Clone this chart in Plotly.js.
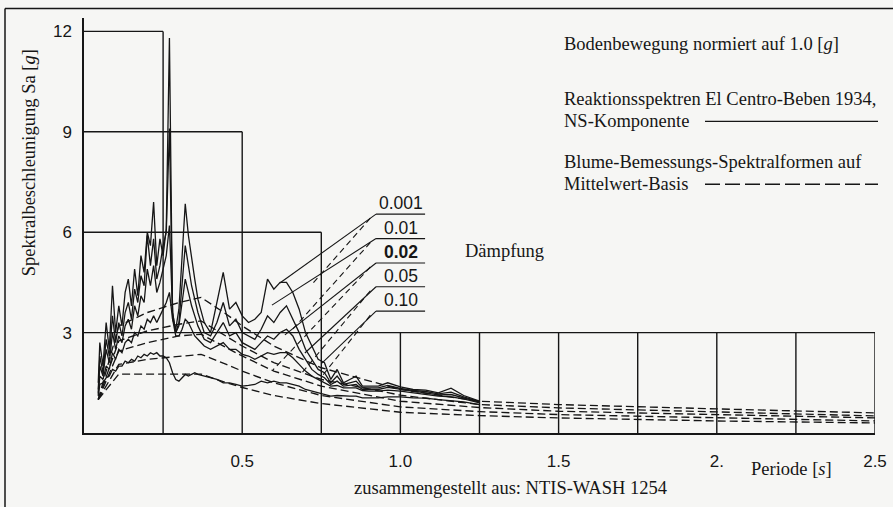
<!DOCTYPE html>
<html>
<head>
<meta charset="utf-8">
<script src="https://cdn.plot.ly/plotly-3.0.1.min.js"></script>
<style>
  html, body { margin: 0; padding: 0; background: #f6f6f4; }
  #chart { width: 893px; height: 507px; }
</style>
</head>
<body>
<div id="chart"></div>
<script>
// ---------- DATA ----------
const dampings = ['0.001', '0.01', '0.02', '0.05', '0.10'];

// Response spectra El Centro, NS component (solid)
const solidT = [0.045,0.05,0.06,0.07,0.08,0.09,0.10,0.11,0.12,0.13,0.14,0.15,0.16,0.17,0.18,0.19,0.20,0.21,0.22,0.23,0.24,0.25,0.26,0.27,0.28,0.29,0.30,0.31,0.32,0.33,0.34,0.35,0.36,0.38,0.40,0.42,0.44,0.46,0.48,0.50,0.52,0.54,0.56,0.58,0.60,0.62,0.64,0.66,0.68,0.70,0.72,0.74,0.76,0.78,0.80,0.82,0.84,0.86,0.88,0.90,0.93,0.96,1.00,1.04,1.08,1.12,1.16,1.20,1.25];
const solid001 = [1.5,2.7,2.0,3.3,2.5,4.4,3.0,3.8,3.2,4.2,4.6,3.8,4.9,4.1,5.3,4.8,6.0,5.6,6.9,5.0,5.8,5.3,6.1,11.8,3.4,3.1,3.7,5.4,6.85,5.9,5.2,4.6,4.0,3.3,3.0,3.9,4.8,3.7,3.9,3.5,3.3,3.4,3.6,4.6,4.3,4.5,4.5,4.2,3.7,3.0,2.6,2.2,2.1,1.6,1.9,1.5,1.6,1.7,1.4,1.4,1.4,1.5,1.38,1.3,1.28,1.2,1.34,1.12,0.95];
const solid01 = [1.3,2.3,1.8,2.8,2.3,3.5,2.7,3.3,2.9,3.6,3.9,3.4,4.3,3.9,4.7,4.4,5.9,5.0,5.8,4.6,5.0,5.6,6.0,9.1,3.6,3.0,3.3,4.6,5.6,5.0,4.4,4.0,3.6,3.0,2.9,3.3,3.9,3.2,3.4,3.0,2.9,2.8,3.1,3.5,3.3,3.6,3.8,3.4,3.0,2.5,2.2,1.9,1.8,1.5,1.7,1.45,1.5,1.55,1.35,1.35,1.35,1.42,1.33,1.27,1.24,1.17,1.22,1.08,0.94];
const solid02 = [1.2,2.0,1.7,2.5,2.1,3.0,2.5,2.9,2.7,3.2,3.4,3.1,3.8,3.5,4.1,3.9,4.9,4.4,5.0,4.2,4.5,4.9,5.3,6.2,3.6,3.0,3.2,3.9,4.6,4.2,3.8,3.5,3.2,2.8,2.7,3.0,3.3,2.9,3.0,2.7,2.6,2.5,2.7,2.9,2.8,3.0,3.1,2.9,2.5,2.2,1.9,1.75,1.65,1.45,1.55,1.4,1.42,1.45,1.3,1.3,1.3,1.36,1.3,1.24,1.2,1.14,1.15,1.05,0.92];
const solid05 = [1.15,1.7,1.6,2.0,1.9,2.4,2.2,2.5,2.4,2.7,2.8,2.7,3.0,2.9,3.2,3.1,3.4,3.3,3.5,3.3,3.5,3.7,3.9,4.2,3.4,2.9,2.9,3.1,3.4,3.3,3.1,2.9,2.8,2.6,2.5,2.6,2.7,2.5,2.5,2.35,2.3,2.2,2.3,2.4,2.35,2.4,2.4,2.25,2.05,1.85,1.7,1.6,1.5,1.4,1.42,1.35,1.35,1.35,1.27,1.25,1.25,1.28,1.25,1.2,1.17,1.1,1.08,1.02,0.9];
const solid10 = [1.1,1.45,1.5,1.65,1.7,1.9,1.85,2.0,2.0,2.15,2.1,2.2,2.15,2.3,2.25,2.35,2.3,2.4,2.35,2.4,2.3,2.3,2.25,2.1,1.8,1.6,1.55,1.65,1.75,1.7,1.75,1.8,1.75,1.7,1.65,1.6,1.5,1.5,1.45,1.4,1.42,1.45,1.55,1.5,1.55,1.5,1.5,1.45,1.4,1.3,1.25,1.2,1.15,1.1,1.12,1.1,1.1,1.1,1.05,1.05,1.05,1.08,1.08,1.05,1.04,1.0,0.97,0.93,0.85];

// Blume design spectral shapes, mean basis (dashed)
const designT = [0.045,0.11,0.2,0.3,0.37,0.45,0.5,0.6,0.75,1.0,1.25,1.5,2.0,2.5];
const design001 = [1.0,3.2,3.6,3.9,4.05,3.55,3.2,2.6,1.95,1.3,0.95,0.85,0.72,0.60];
const design01  = [1.0,2.75,3.05,3.25,3.35,2.9,2.6,2.1,1.6,1.13,0.85,0.75,0.63,0.51];
const design02  = [1.0,2.45,2.7,2.9,2.95,2.55,2.3,1.85,1.4,0.95,0.76,0.65,0.54,0.45];
const design05  = [1.0,2.05,2.2,2.3,2.35,2.05,1.85,1.5,1.12,0.78,0.64,0.55,0.45,0.36];
const design10  = [1.0,1.76,1.76,1.76,1.76,1.5,1.36,1.12,0.88,0.62,0.52,0.45,0.36,0.30];

// Axis ticks
const xTickVals = [0.5, 1.0, 1.5, 2.0, 2.5];
const xTickText = ['0.5', '1.0', '1.5', '2.', '2.5'];
const yTickVals = [3, 6, 9, 12];
const yTickText = ['3', '6', '9', '12'];

// Staircase reference boxes: vertical line at period, from 0 up to top value
const boxT   = [0.25, 0.5, 0.75, 1.0, 1.25, 1.5, 1.75, 2.0, 2.25, 2.5];
const boxTop = [12, 9, 6, 3, 3, 3, 3, 3, 3, 3];

// Damping label leaders (data coords): label underline level, solid / dashed targets
const labelLevel  = [6.54, 5.81, 5.08, 4.37, 3.64];
const solidLeadT  = [0.619, 0.594, 0.635, 0.698, 0.752];
const solidLeadSa = [4.48, 3.82, 2.93, 2.39, 2.09];
const dashLeadT   = [0.724, 0.651, 0.597, 0.683, 0.755];
const dashLeadSa  = [4.48, 3.01, 1.88, 1.73, 1.73];

// ---------- LAYOUT CONSTANTS ----------
const W = 893, H = 507;
const M = { l: 84, r: 18, t: 17.6, b: 74 };
const PW = W - M.l - M.r, PH = H - M.t - M.b;
const px = v => (v - M.l) / PW;
const py = v => (H - M.b - v) / PH;

const INK = '#161616';
const SERIF = 'Liberation Serif, Times New Roman, serif';
const SANS = 'Liberation Sans, Arial, sans-serif';

const solids = [solid001, solid01, solid02, solid05, solid10];
const designs = [design001, design01, design02, design05, design10];

const traces = [];
designs.forEach((d, i) => traces.push({
  x: designT, y: d, type: 'scatter', mode: 'lines', name: 'Blume ' + dampings[i],
  line: { color: INK, width: 1.35, dash: '8px,4px' }, hoverinfo: 'skip'
}));
solids.forEach((s, i) => traces.push({
  x: solidT, y: s, type: 'scatter', mode: 'lines', name: 'El Centro ' + dampings[i],
  line: { color: INK, width: 1.3 }, hoverinfo: 'skip'
}));

const shapes = [];
// staircase frame
boxT.forEach((t, i) => {
  shapes.push({ type: 'line', xref: 'x', yref: 'y', x0: t, x1: t, y0: 0, y1: boxTop[i], line: { color: INK, width: 1.4 } });
});
[0, 1, 2, 3].forEach(i => {
  const xEnd = (i === 3) ? boxT[boxT.length - 1] : boxT[i];
  shapes.push({ type: 'line', xref: 'x', yref: 'y', x0: 0, x1: xEnd, y0: boxTop[i], y1: boxTop[i], line: { color: INK, width: 1.4 } });
});
// damping label underlines and leaders
const ulX0 = 0.923, ulX1 = 1.078, dlX0 = 0.905;
labelLevel.forEach((lv, i) => {
  shapes.push({ type: 'line', xref: 'x', yref: 'y', x0: ulX0, x1: ulX1, y0: lv, y1: lv, line: { color: INK, width: 1.2 } });
  shapes.push({ type: 'line', xref: 'x', yref: 'y', x0: ulX0, x1: solidLeadT[i], y0: lv, y1: solidLeadSa[i], line: { color: INK, width: 1.1 } });
  shapes.push({ type: 'line', xref: 'x', yref: 'y', x0: dlX0, x1: dashLeadT[i], y0: lv - 0.12, y1: dashLeadSa[i], line: { color: INK, width: 1.1, dash: '6px,4px' } });
});
// outer border (left + top)
shapes.push({ type: 'line', xref: 'paper', yref: 'paper', x0: px(5), x1: px(5), y0: py(8), y1: py(510), line: { color: INK, width: 1.5 } });
shapes.push({ type: 'line', xref: 'paper', yref: 'paper', x0: px(5), x1: px(895), y0: py(8), y1: py(8), line: { color: INK, width: 1.5 } });
// legend sample lines
shapes.push({ type: 'line', xref: 'paper', yref: 'paper', x0: px(705), x1: px(878), y0: py(121), y1: py(121), line: { color: INK, width: 1.3 } });
shapes.push({ type: 'line', xref: 'paper', yref: 'paper', x0: px(705), x1: px(878), y0: py(184), y1: py(184), line: { color: INK, width: 1.3, dash: '15px,5px' } });

const serifText = (text, x, y, opts = {}) => Object.assign({
  text, xref: 'paper', yref: 'paper', x: px(x), y: py(y), showarrow: false,
  xanchor: 'left', yanchor: 'middle', font: { family: SERIF, size: 18.5, color: INK }
}, opts);

const annotations = [
  serifText('Spektralbeschleunigung Sa [<i>g</i>]', 29, 163, { xanchor: 'center', textangle: -90 }),
  serifText('zusammengestellt aus: NTIS-WASH 1254', 511, 488, { xanchor: 'center' }),
  serifText('Periode [<i>s</i>]', 791, 469, { xanchor: 'center' }),
  serifText('Bodenbewegung normiert auf 1.0 [<i>g</i>]', 562, 44),
  serifText('Reaktionsspektren El Centro-Beben 1934,', 562, 99),
  serifText('NS-Komponente', 562, 121),
  serifText('Blume-Bemessungs-Spektralformen auf', 562, 162),
  serifText('Mittelwert-Basis', 562, 184),
  serifText('Dämpfung', 504, 251, { xanchor: 'center' })
];
dampings.forEach((d, i) => annotations.push({
  text: d === '0.02' ? '<b>' + d + '</b>' : d,
  xref: 'x', yref: 'y', x: (ulX0 + ulX1) / 2, y: labelLevel[i] + 0.32,
  showarrow: false, xanchor: 'center', yanchor: 'middle',
  font: { family: SANS, size: 17.5, color: INK }
}));

const layout = {
  width: W, height: H,
  margin: M,
  paper_bgcolor: '#f6f6f4', plot_bgcolor: '#f6f6f4',
  showlegend: false,
  xaxis: {
    range: [0, 2.5], showgrid: false, zeroline: false,
    showline: true, linecolor: INK, linewidth: 1.6,
    tickvals: xTickVals, ticktext: xTickText, ticks: '',
    ticklabelstandoff: 12,
    tickfont: { family: SANS, size: 17, color: INK }
  },
  yaxis: {
    range: [0, 12.4], showgrid: false, zeroline: false,
    showline: true, linecolor: INK, linewidth: 1.6,
    tickvals: yTickVals, ticktext: yTickText, ticks: '',
    ticklabelstandoff: 7,
    tickfont: { family: SANS, size: 17, color: INK }
  },
  shapes, annotations
};

Plotly.newPlot('chart', traces, layout, { staticPlot: true, displayModeBar: false });
</script>
</body>
</html>
